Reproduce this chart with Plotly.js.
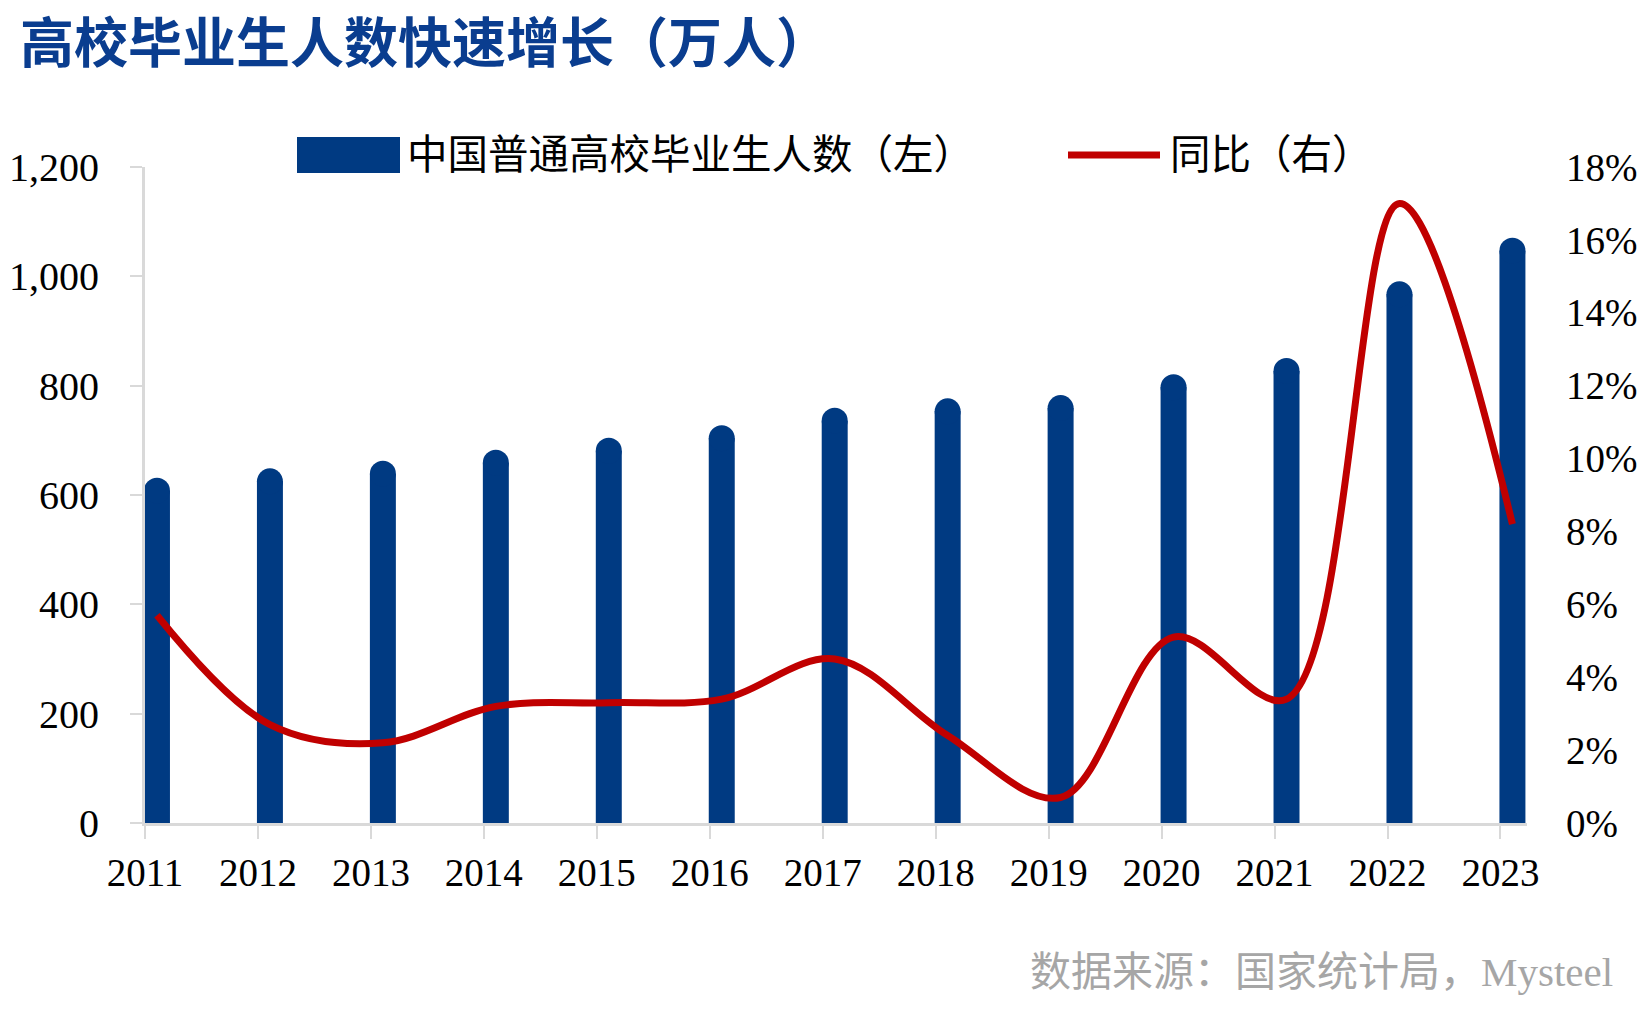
<!DOCTYPE html>
<html>
<head>
<meta charset="utf-8">
<script src="https://cdn.plot.ly/plotly-3.0.1.min.js"></script>
<style>
  html, body { margin: 0; padding: 0; background: #ffffff; }
  #chart { width: 1647px; height: 1015px; }
</style>
</head>
<body>
<div id="chart"></div>
<script>
// ---- data ----
const years = [2011, 2012, 2013, 2014, 2015, 2016, 2017, 2018, 2019, 2020, 2021, 2022, 2023];
const yearLabels = ["2011", "2012", "2013", "2014", "2015", "2016", "2017", "2018", "2019", "2020", "2021", "2022", "2023"];
const graduates = [608, 625, 639, 659, 681, 704, 736, 753, 759, 797, 827, 967, 1047];   // 万人 (left)
const growthPct = [5.7, 2.7, 2.2, 3.2, 3.3, 3.4, 4.5, 2.4, 0.7, 5.1, 3.4, 17.0, 8.2];   // % (right)
const seriesNames = ["中国普通高校毕业生人数（左）", "同比（右）"];
const titleText = "高校毕业生人数快速增长（万人）";
const sourceText = "数据来源：国家统计局，Mysteel";

// ---- style ----
const W = 1647, H = 1015;
const M = { l: 145, r: 120, t: 167, b: 192 };
const plotW = W - M.l - M.r, plotH = H - M.t - M.b;
const px = x => (x - M.l) / plotW;          // pixel -> paper x
const py = y => (H - M.b - y) / plotH;      // pixel -> paper y
const barColor = "#003A82";
const lineColor = "#C00000";
const axisGray = "#D9D9D9";
const tickShift = 0.106;
const barWidth = 0.23;
const serif = "'Liberation Serif', 'Times New Roman', serif";
const cjk = "'Liberation Serif', 'Noto Sans CJK SC', sans-serif";

const traces = [
  {
    type: "bar", x: years, y: graduates, name: seriesNames[0],
    width: barWidth, marker: { color: barColor, line: { width: 0 } },
    yaxis: "y", showlegend: false, hoverinfo: "skip"
  },
  { // round caps on the bars
    type: "scatter", mode: "markers", x: years, y: graduates,
    marker: { symbol: "circle", size: 26, color: barColor, line: { width: 0 } },
    yaxis: "y", showlegend: false, hoverinfo: "skip", cliponaxis: false
  },
  {
    type: "scatter", mode: "lines", x: years, y: growthPct, name: seriesNames[1],
    line: { color: lineColor, width: 7, shape: "spline", smoothing: 1 },
    yaxis: "y2", showlegend: false, hoverinfo: "skip", cliponaxis: false
  }
];

const layout = {
  width: W, height: H,
  margin: M,
  paper_bgcolor: "#ffffff", plot_bgcolor: "#ffffff",
  showlegend: false,
  xaxis: {
    range: [years[0] - tickShift, years[years.length - 1] - tickShift + 0.235],
    tickmode: "array",
    tickvals: years.map(v => v - tickShift),
    ticktext: yearLabels,
    showgrid: false, zeroline: false,
    showline: true, linecolor: axisGray, linewidth: 3,
    ticks: "outside", ticklen: 13, tickwidth: 2, tickcolor: axisGray,
    tickfont: { family: serif, size: 39, color: "#000000" },
    ticklabelstandoff: 0,
    fixedrange: true
  },
  yaxis: {
    range: [0, 1200], dtick: 200, tickformat: ",",
    showgrid: false, zeroline: false,
    showline: true, linecolor: axisGray, linewidth: 3,
    ticks: "outside", ticklen: 12, tickwidth: 2, tickcolor: axisGray,
    tickfont: { family: serif, size: 40, color: "#000000" },
    ticklabelstandoff: 23,
    fixedrange: true
  },
  yaxis2: {
    overlaying: "y", side: "right",
    range: [0, 18], dtick: 2, ticksuffix: "%",
    showgrid: false, zeroline: false, showline: false, ticks: "",
    tickfont: { family: serif, size: 39, color: "#000000" },
    ticklabelstandoff: 38,
    fixedrange: true
  },
  shapes: [
    { type: "rect", xref: "paper", yref: "paper",
      x0: px(297), x1: px(400), y0: py(173), y1: py(137),
      fillcolor: barColor, line: { width: 0 } },
    { type: "line", xref: "paper", yref: "paper",
      x0: px(1068), x1: px(1160), y0: py(155), y1: py(155),
      line: { color: lineColor, width: 7 } }
  ],
  annotations: [
    { text: titleText, xref: "paper", yref: "paper",
      x: px(18), y: py(39), xanchor: "left", yanchor: "middle", showarrow: false,
      font: { family: "'Noto Sans CJK SC', sans-serif", size: 54, color: "#0A3D8F", weight: 700 } },
    { text: seriesNames[0], xref: "paper", yref: "paper",
      x: px(405), y: py(155), xanchor: "left", yanchor: "middle", showarrow: false,
      font: { family: cjk, size: 40.5, color: "#000000" } },
    { text: seriesNames[1], xref: "paper", yref: "paper",
      x: px(1168), y: py(155), xanchor: "left", yanchor: "middle", showarrow: false,
      font: { family: cjk, size: 40.5, color: "#000000" } },
    { text: sourceText, xref: "paper", yref: "paper",
      x: px(1615), y: py(972), xanchor: "right", yanchor: "middle", showarrow: false,
      font: { family: cjk, size: 41, color: "#A6A6A6" } }
  ]
};

Plotly.newPlot("chart", traces, layout, { displayModeBar: false, staticPlot: true });
</script>
</body>
</html>
